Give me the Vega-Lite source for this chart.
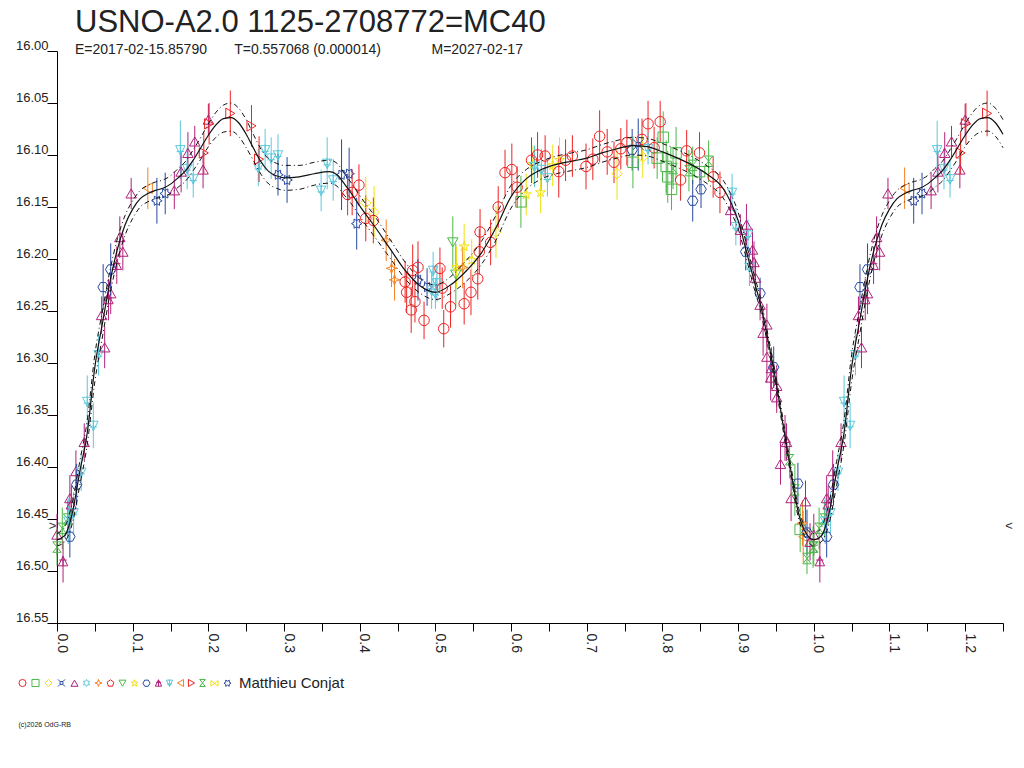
{
  "$schema": "https://vega.github.io/schema/vega-lite/v6.json",
  "autosize": {"type": "none"},
  "padding": {"left": 57, "top": 51, "right": 21, "bottom": 145},
  "width": 946,
  "height": 572,
  "background": "white",
  "title": {
    "text": "USNO-A2.0 1125-2708772=MC40",
    "subtitle": "E=2017-02-15.85790\u00a0\u00a0\u00a0\u00a0\u00a0\u00a0\u00a0T=0.557068 (0.000014)\u00a0\u00a0\u00a0\u00a0\u00a0\u00a0\u00a0\u00a0\u00a0\u00a0\u00a0\u00a0\u00a0M=2027-02-17",
    "anchor": "start",
    "frame": "group",
    "dx": 18,
    "offset": -19,
    "font": "Liberation Sans",
    "fontSize": 31,
    "fontWeight": "normal",
    "color": "#222222",
    "subtitleFont": "Liberation Sans",
    "subtitleFontSize": 14,
    "subtitleColor": "#222222",
    "subtitlePadding": 4
  },
  "datasets": {
    "pts": [
      {"p":0.000,"m":16.465,"e":0.020,"s":"s5"},
      {"p":0.000,"m":16.477,"e":0.018,"s":"s16"},
      {"p":0.007,"m":16.459,"e":0.020,"s":"s16"},
      {"p":0.008,"m":16.491,"e":0.020,"s":"s12"},
      {"p":0.014,"m":16.450,"e":0.018,"s":"s16"},
      {"p":0.015,"m":16.452,"e":0.022,"s":"s13"},
      {"p":0.017,"m":16.467,"e":0.020,"s":"s11"},
      {"p":0.017,"m":16.430,"e":0.022,"s":"s5"},
      {"p":0.019,"m":16.436,"e":0.018,"s":"s5"},
      {"p":0.022,"m":16.444,"e":0.020,"s":"s13"},
      {"p":0.025,"m":16.404,"e":0.020,"s":"s5"},
      {"p":0.026,"m":16.417,"e":0.020,"s":"s11"},
      {"p":0.032,"m":16.405,"e":0.018,"s":"s13"},
      {"p":0.036,"m":16.376,"e":0.018,"s":"s5"},
      {"p":0.040,"m":16.337,"e":0.025,"s":"s13"},
      {"p":0.048,"m":16.360,"e":0.022,"s":"s13"},
      {"p":0.055,"m":16.292,"e":0.020,"s":"s13"},
      {"p":0.059,"m":16.254,"e":0.018,"s":"s5"},
      {"p":0.061,"m":16.227,"e":0.022,"s":"s11"},
      {"p":0.063,"m":16.285,"e":0.020,"s":"s5"},
      {"p":0.068,"m":16.239,"e":0.020,"s":"s12"},
      {"p":0.071,"m":16.233,"e":0.020,"s":"s5"},
      {"p":0.071,"m":16.210,"e":0.025,"s":"s11"},
      {"p":0.079,"m":16.206,"e":0.018,"s":"s12"},
      {"p":0.083,"m":16.179,"e":0.020,"s":"s5"},
      {"p":0.087,"m":16.193,"e":0.018,"s":"s5"},
      {"p":0.098,"m":16.137,"e":0.015,"s":"s5"},
      {"p":0.120,"m":16.132,"e":0.020,"s":"s14"},
      {"p":0.132,"m":16.144,"e":0.022,"s":"s18"},
      {"p":0.143,"m":16.137,"e":0.020,"s":"s18"},
      {"p":0.155,"m":16.134,"e":0.018,"s":"s5"},
      {"p":0.163,"m":16.095,"e":0.028,"s":"s13"},
      {"p":0.164,"m":16.116,"e":0.020,"s":"s5"},
      {"p":0.172,"m":16.113,"e":0.020,"s":"s13"},
      {"p":0.173,"m":16.098,"e":0.020,"s":"s5"},
      {"p":0.180,"m":16.123,"e":0.018,"s":"s13"},
      {"p":0.182,"m":16.087,"e":0.015,"s":"s5"},
      {"p":0.193,"m":16.114,"e":0.018,"s":"s5"},
      {"p":0.194,"m":16.098,"e":0.020,"s":"s15"},
      {"p":0.200,"m":16.066,"e":0.015,"s":"s5"},
      {"p":0.201,"m":16.070,"e":0.020,"s":"s15"},
      {"p":0.229,"m":16.060,"e":0.022,"s":"s15"},
      {"p":0.257,"m":16.072,"e":0.020,"s":"s15"},
      {"p":0.266,"m":16.112,"e":0.018,"s":"s13"},
      {"p":0.267,"m":16.104,"e":0.022,"s":"s15"},
      {"p":0.275,"m":16.095,"e":0.020,"s":"s13"},
      {"p":0.283,"m":16.103,"e":0.020,"s":"s13"},
      {"p":0.292,"m":16.100,"e":0.020,"s":"s13"},
      {"p":0.292,"m":16.119,"e":0.020,"s":"s18"},
      {"p":0.304,"m":16.124,"e":0.022,"s":"s18"},
      {"p":0.349,"m":16.134,"e":0.020,"s":"s13"},
      {"p":0.357,"m":16.108,"e":0.025,"s":"s13"},
      {"p":0.365,"m":16.124,"e":0.020,"s":"s13"},
      {"p":0.376,"m":16.119,"e":0.034,"s":"s18"},
      {"p":0.386,"m":16.118,"e":0.025,"s":"s18"},
      {"p":0.384,"m":16.138,"e":0.020,"s":"s1"},
      {"p":0.390,"m":16.136,"e":0.022,"s":"s1"},
      {"p":0.399,"m":16.129,"e":0.020,"s":"s1"},
      {"p":0.396,"m":16.166,"e":0.025,"s":"s18"},
      {"p":0.408,"m":16.146,"e":0.025,"s":"s3"},
      {"p":0.419,"m":16.155,"e":0.025,"s":"s3"},
      {"p":0.408,"m":16.161,"e":0.022,"s":"s1"},
      {"p":0.418,"m":16.163,"e":0.022,"s":"s1"},
      {"p":0.435,"m":16.182,"e":0.020,"s":"s7"},
      {"p":0.442,"m":16.209,"e":0.018,"s":"s7"},
      {"p":0.446,"m":16.220,"e":0.020,"s":"s7"},
      {"p":0.460,"m":16.222,"e":0.020,"s":"s1"},
      {"p":0.462,"m":16.232,"e":0.020,"s":"s1"},
      {"p":0.468,"m":16.249,"e":0.022,"s":"s1"},
      {"p":0.470,"m":16.211,"e":0.025,"s":"s1"},
      {"p":0.473,"m":16.241,"e":0.020,"s":"s1"},
      {"p":0.477,"m":16.208,"e":0.025,"s":"s1"},
      {"p":0.477,"m":16.220,"e":0.020,"s":"s18"},
      {"p":0.485,"m":16.259,"e":0.018,"s":"s1"},
      {"p":0.489,"m":16.227,"e":0.018,"s":"s18"},
      {"p":0.495,"m":16.230,"e":0.018,"s":"s13"},
      {"p":0.497,"m":16.211,"e":0.018,"s":"s13"},
      {"p":0.500,"m":16.233,"e":0.015,"s":"s13"},
      {"p":0.502,"m":16.223,"e":0.018,"s":"s13"},
      {"p":0.506,"m":16.209,"e":0.020,"s":"s1"},
      {"p":0.509,"m":16.228,"e":0.020,"s":"s1"},
      {"p":0.511,"m":16.267,"e":0.018,"s":"s1"},
      {"p":0.520,"m":16.246,"e":0.020,"s":"s1"},
      {"p":0.523,"m":16.184,"e":0.025,"s":"s9"},
      {"p":0.527,"m":16.215,"e":0.030,"s":"s9"},
      {"p":0.528,"m":16.208,"e":0.020,"s":"s10"},
      {"p":0.536,"m":16.208,"e":0.020,"s":"s7"},
      {"p":0.538,"m":16.188,"e":0.022,"s":"s10"},
      {"p":0.538,"m":16.243,"e":0.020,"s":"s1"},
      {"p":0.547,"m":16.232,"e":0.022,"s":"s1"},
      {"p":0.548,"m":16.201,"e":0.020,"s":"s10"},
      {"p":0.556,"m":16.219,"e":0.020,"s":"s1"},
      {"p":0.558,"m":16.193,"e":0.022,"s":"s1"},
      {"p":0.559,"m":16.174,"e":0.022,"s":"s1"},
      {"p":0.573,"m":16.184,"e":0.022,"s":"s1"},
      {"p":0.580,"m":16.174,"e":0.025,"s":"s3"},
      {"p":0.583,"m":16.150,"e":0.020,"s":"s1"},
      {"p":0.592,"m":16.117,"e":0.022,"s":"s1"},
      {"p":0.601,"m":16.114,"e":0.025,"s":"s1"},
      {"p":0.608,"m":16.131,"e":0.020,"s":"s1"},
      {"p":0.613,"m":16.145,"e":0.025,"s":"s2"},
      {"p":0.620,"m":16.138,"e":0.020,"s":"s10"},
      {"p":0.627,"m":16.105,"e":0.022,"s":"s1"},
      {"p":0.629,"m":16.109,"e":0.018,"s":"s10"},
      {"p":0.631,"m":16.111,"e":0.020,"s":"s13"},
      {"p":0.635,"m":16.100,"e":0.022,"s":"s1"},
      {"p":0.639,"m":16.136,"e":0.020,"s":"s10"},
      {"p":0.640,"m":16.114,"e":0.020,"s":"s13"},
      {"p":0.645,"m":16.101,"e":0.020,"s":"s1"},
      {"p":0.648,"m":16.122,"e":0.018,"s":"s13"},
      {"p":0.655,"m":16.110,"e":0.020,"s":"s10"},
      {"p":0.663,"m":16.116,"e":0.025,"s":"s1"},
      {"p":0.664,"m":16.105,"e":0.022,"s":"s10"},
      {"p":0.672,"m":16.105,"e":0.020,"s":"s1"},
      {"p":0.681,"m":16.101,"e":0.020,"s":"s1"},
      {"p":0.699,"m":16.111,"e":0.022,"s":"s1"},
      {"p":0.708,"m":16.104,"e":0.020,"s":"s1"},
      {"p":0.717,"m":16.082,"e":0.025,"s":"s1"},
      {"p":0.727,"m":16.097,"e":0.022,"s":"s1"},
      {"p":0.736,"m":16.107,"e":0.020,"s":"s1"},
      {"p":0.740,"m":16.118,"e":0.025,"s":"s3"},
      {"p":0.745,"m":16.094,"e":0.020,"s":"s1"},
      {"p":0.753,"m":16.088,"e":0.022,"s":"s1"},
      {"p":0.760,"m":16.095,"e":0.020,"s":"s11"},
      {"p":0.761,"m":16.107,"e":0.025,"s":"s2"},
      {"p":0.768,"m":16.090,"e":0.025,"s":"s4"},
      {"p":0.773,"m":16.085,"e":0.020,"s":"s1"},
      {"p":0.774,"m":16.102,"e":0.020,"s":"s3"},
      {"p":0.781,"m":16.070,"e":0.022,"s":"s1"},
      {"p":0.781,"m":16.094,"e":0.015,"s":"s13"},
      {"p":0.789,"m":16.093,"e":0.020,"s":"s1"},
      {"p":0.793,"m":16.103,"e":0.020,"s":"s2"},
      {"p":0.797,"m":16.068,"e":0.020,"s":"s1"},
      {"p":0.801,"m":16.083,"e":0.025,"s":"s2"},
      {"p":0.805,"m":16.111,"e":0.025,"s":"s2"},
      {"p":0.807,"m":16.121,"e":0.025,"s":"s2"},
      {"p":0.812,"m":16.133,"e":0.020,"s":"s2"},
      {"p":0.814,"m":16.113,"e":0.020,"s":"s16"},
      {"p":0.818,"m":16.098,"e":0.025,"s":"s2"},
      {"p":0.824,"m":16.124,"e":0.020,"s":"s1"},
      {"p":0.832,"m":16.096,"e":0.020,"s":"s1"},
      {"p":0.835,"m":16.115,"e":0.020,"s":"s16"},
      {"p":0.840,"m":16.110,"e":0.018,"s":"s16"},
      {"p":0.840,"m":16.144,"e":0.020,"s":"s11"},
      {"p":0.849,"m":16.098,"e":0.020,"s":"s1"},
      {"p":0.849,"m":16.116,"e":0.020,"s":"s2"},
      {"p":0.851,"m":16.133,"e":0.018,"s":"s11"},
      {"p":0.861,"m":16.106,"e":0.020,"s":"s16"},
      {"p":0.867,"m":16.121,"e":0.020,"s":"s1"},
      {"p":0.876,"m":16.136,"e":0.020,"s":"s1"},
      {"p":0.890,"m":16.153,"e":0.015,"s":"s5"},
      {"p":0.892,"m":16.136,"e":0.018,"s":"s13"},
      {"p":0.897,"m":16.169,"e":0.018,"s":"s13"},
      {"p":0.903,"m":16.172,"e":0.015,"s":"s5"},
      {"p":0.910,"m":16.193,"e":0.018,"s":"s11"},
      {"p":0.911,"m":16.167,"e":0.020,"s":"s5"},
      {"p":0.913,"m":16.177,"e":0.015,"s":"s13"},
      {"p":0.915,"m":16.208,"e":0.018,"s":"s13"},
      {"p":0.919,"m":16.191,"e":0.020,"s":"s5"},
      {"p":0.921,"m":16.203,"e":0.020,"s":"s5"},
      {"p":0.923,"m":16.218,"e":0.018,"s":"s5"},
      {"p":0.929,"m":16.233,"e":0.015,"s":"s11"},
      {"p":0.929,"m":16.244,"e":0.015,"s":"s5"},
      {"p":0.933,"m":16.271,"e":0.022,"s":"s5"},
      {"p":0.938,"m":16.263,"e":0.020,"s":"s5"},
      {"p":0.938,"m":16.294,"e":0.025,"s":"s5"},
      {"p":0.943,"m":16.314,"e":0.022,"s":"s5"},
      {"p":0.944,"m":16.305,"e":0.020,"s":"s5"},
      {"p":0.947,"m":16.304,"e":0.020,"s":"s11"},
      {"p":0.951,"m":16.322,"e":0.020,"s":"s5"},
      {"p":0.951,"m":16.333,"e":0.015,"s":"s5"},
      {"p":0.956,"m":16.397,"e":0.020,"s":"s5"},
      {"p":0.962,"m":16.372,"e":0.022,"s":"s5"},
      {"p":0.964,"m":16.376,"e":0.018,"s":"s5"},
      {"p":0.968,"m":16.393,"e":0.018,"s":"s16"},
      {"p":0.970,"m":16.430,"e":0.022,"s":"s5"},
      {"p":0.975,"m":16.422,"e":0.025,"s":"s16"},
      {"p":0.979,"m":16.416,"e":0.020,"s":"s11"},
      {"p":0.982,"m":16.460,"e":0.022,"s":"s2"},
      {"p":0.985,"m":16.454,"e":0.022,"s":"s7"},
      {"p":0.986,"m":16.467,"e":0.025,"s":"s14"},
      {"p":0.989,"m":16.433,"e":0.020,"s":"s5"},
      {"p":0.991,"m":16.463,"e":0.022,"s":"s11"},
      {"p":0.991,"m":16.488,"e":0.015,"s":"s16"},
      {"p":0.995,"m":16.472,"e":0.018,"s":"s5"},
      {"p":0.999,"m":16.477,"e":0.020,"s":"s16"},
      {"p":1.000,"m":16.465,"e":0.020,"s":"s5"},
      {"p":1.000,"m":16.477,"e":0.018,"s":"s16"},
      {"p":1.007,"m":16.459,"e":0.020,"s":"s16"},
      {"p":1.008,"m":16.491,"e":0.020,"s":"s12"},
      {"p":1.014,"m":16.450,"e":0.018,"s":"s16"},
      {"p":1.015,"m":16.452,"e":0.022,"s":"s13"},
      {"p":1.017,"m":16.467,"e":0.020,"s":"s11"},
      {"p":1.017,"m":16.430,"e":0.022,"s":"s5"},
      {"p":1.019,"m":16.436,"e":0.018,"s":"s5"},
      {"p":1.022,"m":16.444,"e":0.020,"s":"s13"},
      {"p":1.025,"m":16.404,"e":0.020,"s":"s5"},
      {"p":1.026,"m":16.417,"e":0.020,"s":"s11"},
      {"p":1.032,"m":16.405,"e":0.018,"s":"s13"},
      {"p":1.036,"m":16.376,"e":0.018,"s":"s5"},
      {"p":1.040,"m":16.337,"e":0.025,"s":"s13"},
      {"p":1.048,"m":16.360,"e":0.022,"s":"s13"},
      {"p":1.055,"m":16.292,"e":0.020,"s":"s13"},
      {"p":1.059,"m":16.254,"e":0.018,"s":"s5"},
      {"p":1.061,"m":16.227,"e":0.022,"s":"s11"},
      {"p":1.063,"m":16.285,"e":0.020,"s":"s5"},
      {"p":1.068,"m":16.239,"e":0.020,"s":"s12"},
      {"p":1.071,"m":16.233,"e":0.020,"s":"s5"},
      {"p":1.071,"m":16.210,"e":0.025,"s":"s11"},
      {"p":1.079,"m":16.206,"e":0.018,"s":"s12"},
      {"p":1.083,"m":16.179,"e":0.020,"s":"s5"},
      {"p":1.087,"m":16.193,"e":0.018,"s":"s5"},
      {"p":1.098,"m":16.137,"e":0.015,"s":"s5"},
      {"p":1.120,"m":16.132,"e":0.020,"s":"s14"},
      {"p":1.132,"m":16.144,"e":0.022,"s":"s18"},
      {"p":1.143,"m":16.137,"e":0.020,"s":"s18"},
      {"p":1.155,"m":16.134,"e":0.018,"s":"s5"},
      {"p":1.163,"m":16.095,"e":0.028,"s":"s13"},
      {"p":1.164,"m":16.116,"e":0.020,"s":"s5"},
      {"p":1.172,"m":16.113,"e":0.020,"s":"s13"},
      {"p":1.173,"m":16.098,"e":0.020,"s":"s5"},
      {"p":1.180,"m":16.123,"e":0.018,"s":"s13"},
      {"p":1.182,"m":16.087,"e":0.015,"s":"s5"},
      {"p":1.193,"m":16.114,"e":0.018,"s":"s5"},
      {"p":1.194,"m":16.098,"e":0.020,"s":"s15"},
      {"p":1.200,"m":16.066,"e":0.015,"s":"s5"},
      {"p":1.201,"m":16.070,"e":0.020,"s":"s15"},
      {"p":1.229,"m":16.060,"e":0.022,"s":"s15"}
    ],
    "fit": [
      {"p":0.00,"f":16.470,"u":16.464,"l":16.476},
      {"p":0.01,"f":16.466,"u":16.458,"l":16.472},
      {"p":0.02,"f":16.445,"u":16.435,"l":16.455},
      {"p":0.03,"f":16.405,"u":16.395,"l":16.418},
      {"p":0.04,"f":16.367,"u":16.355,"l":16.378},
      {"p":0.05,"f":16.304,"u":16.292,"l":16.318},
      {"p":0.06,"f":16.262,"u":16.250,"l":16.275},
      {"p":0.07,"f":16.222,"u":16.211,"l":16.234},
      {"p":0.08,"f":16.190,"u":16.180,"l":16.201},
      {"p":0.09,"f":16.167,"u":16.158,"l":16.177},
      {"p":0.10,"f":16.152,"u":16.144,"l":16.161},
      {"p":0.11,"f":16.142,"u":16.134,"l":16.150},
      {"p":0.12,"f":16.137,"u":16.129,"l":16.145},
      {"p":0.13,"f":16.134,"u":16.126,"l":16.142},
      {"p":0.14,"f":16.132,"u":16.124,"l":16.140},
      {"p":0.15,"f":16.128,"u":16.120,"l":16.137},
      {"p":0.16,"f":16.122,"u":16.113,"l":16.131},
      {"p":0.17,"f":16.115,"u":16.106,"l":16.125},
      {"p":0.18,"f":16.105,"u":16.095,"l":16.115},
      {"p":0.19,"f":16.093,"u":16.083,"l":16.104},
      {"p":0.20,"f":16.081,"u":16.070,"l":16.092},
      {"p":0.21,"f":16.071,"u":16.059,"l":16.083},
      {"p":0.22,"f":16.065,"u":16.052,"l":16.078},
      {"p":0.23,"f":16.064,"u":16.050,"l":16.077},
      {"p":0.24,"f":16.069,"u":16.055,"l":16.082},
      {"p":0.25,"f":16.080,"u":16.066,"l":16.093},
      {"p":0.26,"f":16.094,"u":16.081,"l":16.106},
      {"p":0.27,"f":16.107,"u":16.095,"l":16.119},
      {"p":0.28,"f":16.116,"u":16.104,"l":16.128},
      {"p":0.29,"f":16.120,"u":16.108,"l":16.132},
      {"p":0.30,"f":16.122,"u":16.110,"l":16.134},
      {"p":0.32,"f":16.121,"u":16.110,"l":16.133},
      {"p":0.34,"f":16.118,"u":16.107,"l":16.129},
      {"p":0.36,"f":16.116,"u":16.105,"l":16.127},
      {"p":0.37,"f":16.119,"u":16.108,"l":16.130},
      {"p":0.38,"f":16.128,"u":16.118,"l":16.139},
      {"p":0.39,"f":16.138,"u":16.128,"l":16.148},
      {"p":0.40,"f":16.149,"u":16.139,"l":16.159},
      {"p":0.42,"f":16.169,"u":16.159,"l":16.179},
      {"p":0.44,"f":16.190,"u":16.181,"l":16.199},
      {"p":0.46,"f":16.211,"u":16.203,"l":16.219},
      {"p":0.48,"f":16.226,"u":16.219,"l":16.233},
      {"p":0.50,"f":16.232,"u":16.225,"l":16.239},
      {"p":0.52,"f":16.225,"u":16.217,"l":16.233},
      {"p":0.54,"f":16.212,"u":16.202,"l":16.222},
      {"p":0.56,"f":16.195,"u":16.184,"l":16.206},
      {"p":0.58,"f":16.170,"u":16.158,"l":16.182},
      {"p":0.60,"f":16.140,"u":16.129,"l":16.151},
      {"p":0.62,"f":16.123,"u":16.114,"l":16.133},
      {"p":0.64,"f":16.114,"u":16.106,"l":16.123},
      {"p":0.66,"f":16.109,"u":16.101,"l":16.118},
      {"p":0.68,"f":16.106,"u":16.098,"l":16.115},
      {"p":0.70,"f":16.103,"u":16.095,"l":16.112},
      {"p":0.72,"f":16.098,"u":16.090,"l":16.107},
      {"p":0.74,"f":16.094,"u":16.086,"l":16.103},
      {"p":0.76,"f":16.091,"u":16.083,"l":16.100},
      {"p":0.78,"f":16.092,"u":16.084,"l":16.101},
      {"p":0.80,"f":16.097,"u":16.089,"l":16.106},
      {"p":0.82,"f":16.103,"u":16.095,"l":16.112},
      {"p":0.84,"f":16.110,"u":16.102,"l":16.119},
      {"p":0.86,"f":16.119,"u":16.111,"l":16.128},
      {"p":0.88,"f":16.132,"u":16.124,"l":16.141},
      {"p":0.89,"f":16.145,"u":16.137,"l":16.154},
      {"p":0.90,"f":16.163,"u":16.155,"l":16.171},
      {"p":0.91,"f":16.190,"u":16.183,"l":16.197},
      {"p":0.92,"f":16.218,"u":16.212,"l":16.225},
      {"p":0.93,"f":16.245,"u":16.239,"l":16.251},
      {"p":0.94,"f":16.280,"u":16.275,"l":16.286},
      {"p":0.95,"f":16.318,"u":16.313,"l":16.324},
      {"p":0.96,"f":16.362,"u":16.357,"l":16.367},
      {"p":0.97,"f":16.405,"u":16.400,"l":16.410},
      {"p":0.98,"f":16.445,"u":16.440,"l":16.450},
      {"p":0.99,"f":16.464,"u":16.459,"l":16.469},
      {"p":1.00,"f":16.470,"u":16.464,"l":16.476},
      {"p":1.01,"f":16.466,"u":16.458,"l":16.472},
      {"p":1.02,"f":16.445,"u":16.435,"l":16.455},
      {"p":1.03,"f":16.405,"u":16.395,"l":16.418},
      {"p":1.04,"f":16.367,"u":16.355,"l":16.378},
      {"p":1.05,"f":16.304,"u":16.292,"l":16.318},
      {"p":1.06,"f":16.262,"u":16.250,"l":16.275},
      {"p":1.07,"f":16.222,"u":16.211,"l":16.234},
      {"p":1.08,"f":16.190,"u":16.180,"l":16.201},
      {"p":1.09,"f":16.167,"u":16.158,"l":16.177},
      {"p":1.10,"f":16.152,"u":16.144,"l":16.161},
      {"p":1.11,"f":16.142,"u":16.134,"l":16.150},
      {"p":1.12,"f":16.137,"u":16.129,"l":16.145},
      {"p":1.13,"f":16.134,"u":16.126,"l":16.142},
      {"p":1.14,"f":16.132,"u":16.124,"l":16.140},
      {"p":1.15,"f":16.128,"u":16.120,"l":16.137},
      {"p":1.16,"f":16.122,"u":16.113,"l":16.131},
      {"p":1.17,"f":16.115,"u":16.106,"l":16.125},
      {"p":1.18,"f":16.105,"u":16.095,"l":16.115},
      {"p":1.19,"f":16.093,"u":16.083,"l":16.104},
      {"p":1.20,"f":16.081,"u":16.070,"l":16.092},
      {"p":1.21,"f":16.071,"u":16.059,"l":16.083},
      {"p":1.22,"f":16.065,"u":16.052,"l":16.078},
      {"p":1.23,"f":16.064,"u":16.050,"l":16.077},
      {"p":1.24,"f":16.069,"u":16.055,"l":16.082},
      {"p":1.25,"f":16.080,"u":16.066,"l":16.093}
    ],
    "marks": [
      {"p":-0.006,"m":16.457,"t":">"},
      {"p":1.258,"m":16.457,"t":"<"}
    ]
  },
  "encoding": {
    "x": {
      "field": "p",
      "type": "quantitative",
      "scale": {"domain": [0, 1.25], "nice": false, "zero": false},
      "axis": {
        "values": [0,0.05,0.1,0.15,0.2,0.25,0.3,0.35,0.4,0.45,0.5,0.55,0.6,0.65,0.7,0.75,0.8,0.85,0.9,0.95,1,1.05,1.1,1.15,1.2,1.25],
        "labelExpr": "round(datum.value*20) % 2 == 0 ? format(datum.value, '.1f') : ''",
        "labelAngle": 90,
        "labelAlign": "left",
        "labelBaseline": "alphabetic",
        "labelPadding": 2,
        "labelFontSize": 14,
        "labelOverlap": false,
        "labelFlush": false,
        "tickSize": 8,
        "title": "(c)2026 OdG-RB",
        "titleX": -39,
        "titleY": 101,
        "titleAlign": "left",
        "titleBaseline": "middle",
        "titleFontSize": 7,
        "titleFontWeight": "normal"
      }
    }
  },
  "layer": [
    {
      "data": {"name": "pts"},
      "mark": {"type": "errorbar", "thickness": 1},
      "encoding": {
        "y": {
          "field": "m",
          "type": "quantitative",
          "scale": {"domain": [16, 16.55], "reverse": true, "nice": false, "zero": false},
          "axis": {
            "values": [16,16.05,16.1,16.15,16.2,16.25,16.3,16.35,16.4,16.45,16.5,16.55],
            "format": ".2f",
            "tickSize": 10,
            "labelPadding": -1,
            "labelBaseline": "alphabetic",
            "labelOffset": -2,
            "labelFontSize": 13,
            "title": null
          }
        },
        "yError": {"field": "e"},
        "color": {
          "field": "s",
          "type": "nominal",
          "scale": {
            "domain": ["s1","s2","s3","s4","s5","s6","s7","s8","s9","s10","s11","s12","s13","s14","s15","s16","s17","s18"],
            "range": ["#ee2222","#4cb848","#f0e010","#2848a0","#b0207a","#5cc8dc","#f58220","#ee2222","#4cb848","#f0e010","#2848a0","#b0207a","#5cc8dc","#f58220","#ee2222","#4cb848","#f0e010","#2848a0"]
          },
          "legend": {
            "orient": "none",
            "legendX": -39,
            "legendY": 627,
            "direction": "horizontal",
            "title": "Matthieu Conjat",
            "titleOrient": "right",
            "titleFont": "Liberation Sans",
            "titleFontSize": 15,
            "titleFontWeight": "normal",
            "titleColor": "#222222",
            "titlePadding": 6,
            "titleBaseline": "middle",
            "padding": 0,
            "labelExpr": "''",
            "labelFontSize": 1,
            "labelOffset": -4,
            "columnPadding": 0,
            "symbolSize": 50,
            "symbolStrokeWidth": 1
          }
        }
      }
    },
    {
      "data": {"name": "pts"},
      "mark": {"type": "point", "filled": false, "strokeWidth": 1, "size": 110, "opacity": 1},
      "encoding": {
        "y": {"field": "m", "type": "quantitative", "title": null},
        "color": {
          "field": "s",
          "type": "nominal",
          "legend": {
            "orient": "none",
            "legendX": -39,
            "legendY": 627,
            "direction": "horizontal",
            "title": "Matthieu Conjat",
            "titleOrient": "right",
            "titleFont": "Liberation Sans",
            "titleFontSize": 15,
            "titleFontWeight": "normal",
            "titleColor": "#222222",
            "titlePadding": 6,
            "titleBaseline": "middle",
            "padding": 0,
            "labelExpr": "''",
            "labelFontSize": 1,
            "labelOffset": -4,
            "columnPadding": 0,
            "symbolSize": 50,
            "symbolStrokeWidth": 1
          }
        },
        "shape": {
          "field": "s",
          "type": "nominal",
          "scale": {
            "domain": ["s1","s2","s3","s4","s5","s6","s7","s8","s9","s10","s11","s12","s13","s14","s15","s16","s17","s18"],
            "range": [
              "circle",
              "square",
              "diamond",
              "M-1,-1L-0.4,-0.4L0.4,-0.4L1,-1M1,1L0.4,0.4L-0.4,0.4L-1,1M-0.4,-0.4L-0.4,0.4M0.4,-0.4L0.4,0.4",
              "triangle-up",
              "M0,-1L0.29,-0.5L0.87,-0.5L0.58,0L0.87,0.5L0.29,0.5L0,1L-0.29,0.5L-0.87,0.5L-0.58,0L-0.87,-0.5L-0.29,-0.5Z",
              "M0,-1L0.25,-0.25L1,0L0.25,0.25L0,1L-0.25,0.25L-1,0L-0.25,-0.25Z",
              "M0,-1L0.95,-0.31L0.59,0.81L-0.59,0.81L-0.95,-0.31Z",
              "triangle-down",
              "M0,-1L0.22,-0.31L0.95,-0.31L0.36,0.12L0.59,0.81L0,0.38L-0.59,0.81L-0.36,0.12L-0.95,-0.31L-0.22,-0.31Z",
              "M-1,0L-0.5,-0.87L0.5,-0.87L1,0L0.5,0.87L-0.5,0.87Z",
              "M0,-1L0.9,0.8L-0.9,0.8ZM0,-1L0,0.8M-0.7,-0.3L0.7,-0.3",
              "M-0.9,-0.8L0.9,-0.8L0,1ZM0,-1L0,1M-0.7,0.3L0.7,0.3",
              "triangle-left",
              "triangle-right",
              "M-0.8,-1L0.8,-1L-0.8,1L0.8,1Z",
              "M-1,-0.8L1,0.8L1,-0.8L-1,0.8Z",
              "M-1,0L-0.5,-0.29L-0.5,-0.87L0,-0.58L0.5,-0.87L0.5,-0.29L1,0L0.5,0.29L0.5,0.87L0,0.58L-0.5,0.87L-0.5,0.29Z"
            ]
          },
          "legend": {
            "orient": "none",
            "legendX": -39,
            "legendY": 627,
            "direction": "horizontal",
            "title": "Matthieu Conjat",
            "titleOrient": "right",
            "titleFont": "Liberation Sans",
            "titleFontSize": 15,
            "titleFontWeight": "normal",
            "titleColor": "#222222",
            "titlePadding": 6,
            "titleBaseline": "middle",
            "padding": 0,
            "labelExpr": "''",
            "labelFontSize": 1,
            "labelOffset": -4,
            "columnPadding": 0,
            "symbolSize": 50,
            "symbolStrokeWidth": 1
          }
        }
      }
    },
    {
      "data": {"name": "fit"},
      "mark": {"type": "line", "interpolate": "monotone", "color": "#111111", "strokeWidth": 1, "strokeDash": [5, 3, 1, 3]},
      "encoding": {"y": {"field": "u", "type": "quantitative", "title": null}}
    },
    {
      "data": {"name": "fit"},
      "mark": {"type": "line", "interpolate": "monotone", "color": "#111111", "strokeWidth": 1, "strokeDash": [5, 3, 1, 3]},
      "encoding": {"y": {"field": "l", "type": "quantitative", "title": null}}
    },
    {
      "data": {"name": "fit"},
      "mark": {"type": "line", "interpolate": "monotone", "color": "#111111", "strokeWidth": 1.2},
      "encoding": {"y": {"field": "f", "type": "quantitative", "title": null}}
    },
    {
      "data": {"name": "marks"},
      "mark": {"type": "text", "fontSize": 13, "color": "#333333", "font": "Liberation Sans"},
      "encoding": {
        "y": {"field": "m", "type": "quantitative", "title": null},
        "text": {"field": "t"}
      }
    }
  ],
  "config": {
    "view": {"stroke": null},
    "font": "Liberation Sans",
    "axis": {
      "grid": false,
      "domainColor": "#000000",
      "tickColor": "#000000",
      "labelColor": "#222222",
      "titleColor": "#222222",
      "labelFont": "Liberation Sans",
      "titleFont": "Liberation Sans",
      "domainWidth": 1,
      "tickWidth": 1
    }
  }
}
